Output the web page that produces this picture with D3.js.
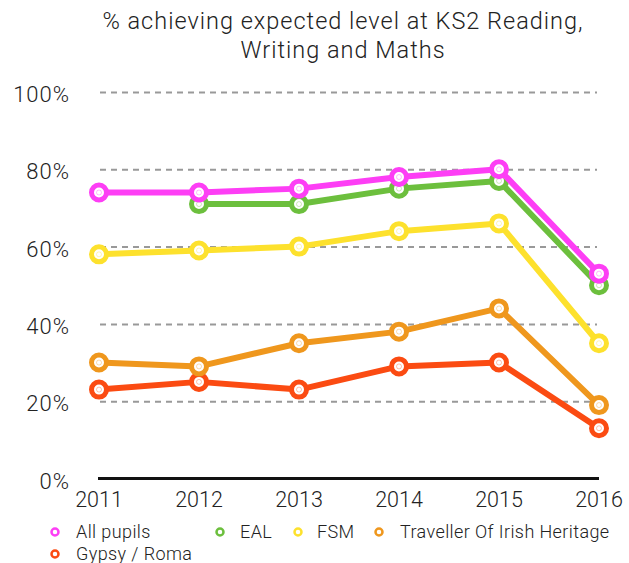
<!DOCTYPE html>
<html>
<head>
<meta charset="utf-8">
<script src="https://cdnjs.cloudflare.com/ajax/libs/d3/7.8.5/d3.min.js"></script>
<style>
  body { margin: 0; background: #fff; }
  svg text { font-family: Roboto, "Helvetica Neue", "Liberation Sans", sans-serif; font-weight: 300; fill: #222; }
  .grid line { stroke: #999; stroke-width: 2; stroke-dasharray: 6 5; }
  .grid .domain { display: none; }
</style>
</head>
<body>
<svg id="chart"></svg>
<script>
var w = 629;
var h = 563;

var years = [2011, 2012, 2013, 2014, 2015, 2016];
var yTicks = [0, 20, 40, 60, 80, 100];
var titleLines = ["% achieving expected level at KS2 Reading,", "Writing and Maths"];

var seriesNames = ["All pupils", "EAL", "FSM", "Traveller Of Irish Heritage", "Gypsy / Roma"];
var seriesColors = ["#fd3ef5", "#6cbf3d", "#fde12d", "#ef971d", "#fb4b12"];
var allPupils = [74, 74, 75, 78, 80, 53];
var eal = [null, 71, 71, 75, 77, 50];
var fsm = [58, 59, 60, 64, 66, 35];
var traveller = [30, 29, 35, 38, 44, 19];
var gypsy = [23, 25, 23, 29, 30, 13];
var seriesValues = [allPupils, eal, fsm, traveller, gypsy];

var x = d3.scaleLinear().domain([2011, 2016]).range([99, 599]);
var y = d3.scaleLinear().domain([0, 100]).range([478.5, 92]);

var svg = d3.select("#chart").attr("width", w).attr("height", h);

// title
svg.append("g").selectAll("text").data(titleLines).enter().append("text")
  .attr("x", 343).attr("y", function(d, i) { return 29 + i * 29; })
  .attr("text-anchor", "middle").style("font-size", "23.5px").style("letter-spacing", "1px")
  .text(function(d) { return d; });

// gridlines
var yGrid = d3.axisLeft(y).tickValues(yTicks.filter(function(t) { return t > 0; })).tickSize(-497).tickFormat("");
svg.append("g").attr("class", "grid").attr("transform", "translate(100,0)").call(yGrid);

// y labels
svg.append("g").selectAll("text").data(yTicks).enter().append("text")
  .attr("x", 70).attr("y", function(d) { return y(d) + 10; })
  .attr("text-anchor", "end").style("font-size", "22px").style("letter-spacing", "1px")
  .text(function(d) { return d + "%"; });

// x axis line
svg.append("line").attr("x1", x(2011) - 1).attr("x2", x(2016)).attr("y1", y(0)).attr("y2", y(0))
  .attr("stroke", "#111").attr("stroke-width", 3);

// x labels
svg.append("g").selectAll("text").data(years).enter().append("text")
  .attr("x", function(d) { return x(d); }).attr("y", 507)
  .attr("text-anchor", "middle").style("font-size", "21.5px")
  .text(function(d) { return d; });

var line = d3.line()
  .defined(function(d) { return d[1] != null; })
  .x(function(d) { return x(d[0]); })
  .y(function(d) { return y(d[1]); });

// draw bottom series first so All pupils sits on top
for (var s = seriesNames.length - 1; s >= 0; s--) {
  var pts = years.map(function(yr, i) { return [yr, seriesValues[s][i]]; });
  var g = svg.append("g");
  g.append("path").attr("d", line(pts)).attr("fill", "none")
    .attr("stroke", seriesColors[s]).attr("stroke-width", 6).attr("stroke-linejoin", "round");
  var dots = pts.filter(function(d) { return d[1] != null; });
  g.selectAll("circle.m").data(dots).enter().append("circle").attr("class", "m")
    .attr("cx", function(d) { return x(d[0]); }).attr("cy", function(d) { return y(d[1]); })
    .attr("r", 7.5).attr("fill", "#fff").attr("stroke", seriesColors[s]).attr("stroke-width", 5);
  g.selectAll("circle.c").data(dots).enter().append("circle").attr("class", "c")
    .attr("cx", function(d) { return x(d[0]); }).attr("cy", function(d) { return y(d[1]); })
    .attr("r", 2.5).attr("fill", "#fff").attr("stroke", seriesColors[s]).attr("stroke-opacity", 0.35).attr("stroke-width", 1);
}

// legend
var legendPos = [[55, 532], [220, 532], [298, 532], [379, 532], [55, 554]];
var legend = svg.append("g").selectAll("g").data(seriesNames).enter().append("g")
  .attr("transform", function(d, i) { return "translate(" + legendPos[i][0] + "," + legendPos[i][1] + ")"; });
legend.append("circle").attr("r", 3.5).attr("fill", "#fff")
  .attr("stroke", function(d, i) { return seriesColors[i]; }).attr("stroke-width", 2.5);
legend.append("text").attr("x", function(d, i) { return i === 1 ? 20 : (i === 2 ? 19 : 21); }).attr("y", 6)
  .style("font-size", "18px").style("letter-spacing", "0.4px").text(function(d) { return d; });
</script>
</body>
</html>
